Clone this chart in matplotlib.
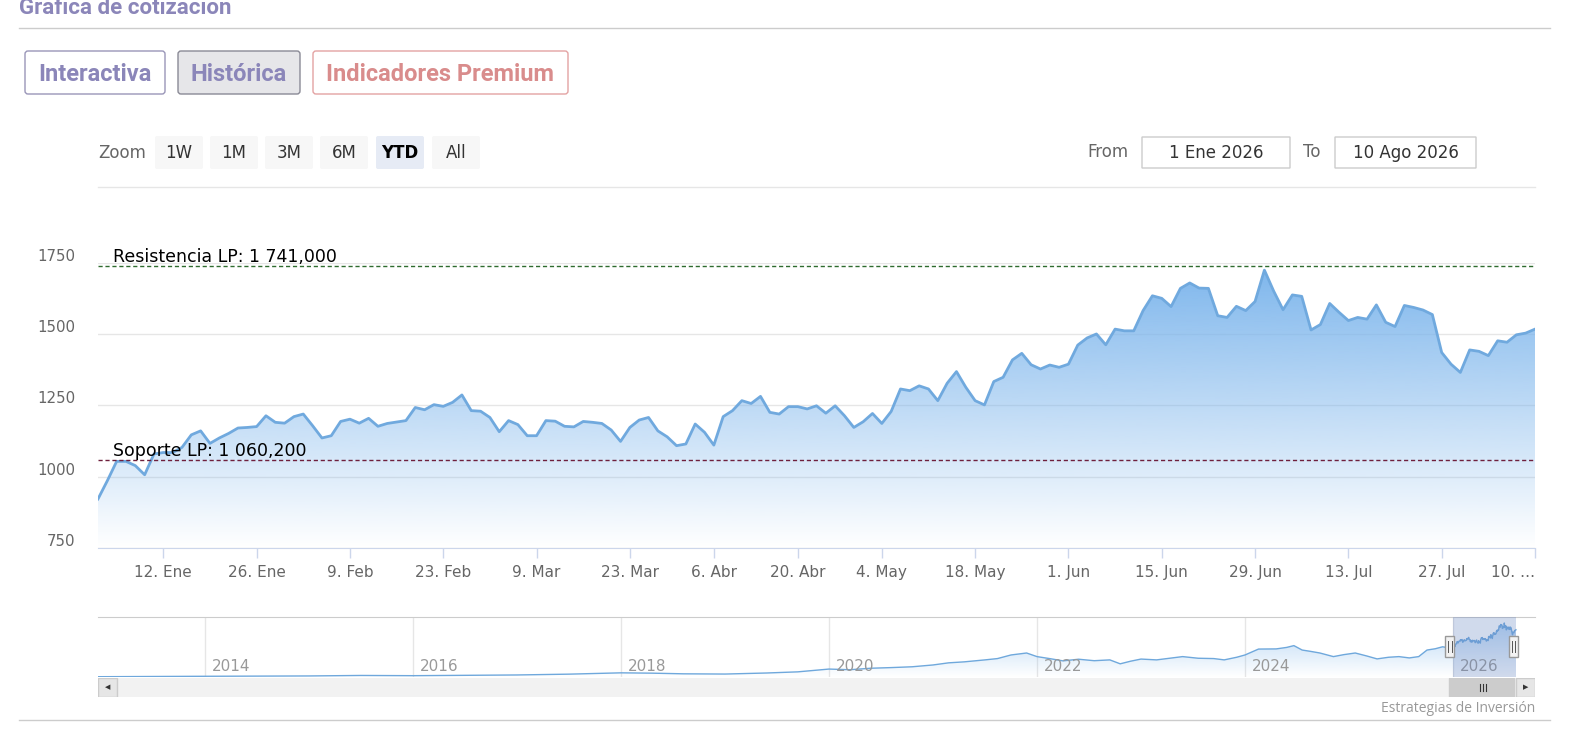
import numpy as np
import matplotlib
matplotlib.use('Agg')
import matplotlib.pyplot as plt
from matplotlib.patches import Rectangle, FancyBboxPatch
from matplotlib.transforms import ScaledTranslation, blended_transform_factory
from matplotlib.colors import to_rgb

W, H = 1573, 741

# cierre diario YTD 2026
prices = [
    922, 986, 1054, 1054, 1039, 1007, 1080, 1085, 1085, 1103,
    1147, 1161, 1117, 1136, 1152, 1171, 1173, 1176, 1214, 1191,
    1188, 1211, 1220, 1179, 1136, 1144, 1194, 1202, 1188, 1205,
    1177, 1187, 1192, 1197, 1243, 1235, 1253, 1247, 1261, 1287,
    1232, 1230, 1208, 1158, 1197, 1183, 1144, 1144, 1197, 1195,
    1177, 1175, 1194, 1191, 1187, 1164, 1124, 1173, 1199, 1208,
    1161, 1140, 1109, 1115, 1185, 1156, 1111, 1211, 1232, 1267,
    1257, 1282, 1226, 1220, 1246, 1246, 1238, 1249, 1223, 1249,
    1214, 1173, 1193, 1222, 1187, 1229, 1308, 1302, 1319, 1308,
    1267, 1328, 1369, 1314, 1267, 1252, 1334, 1349, 1410, 1433,
    1393, 1378, 1392, 1384, 1395, 1462, 1487, 1501, 1463, 1518,
    1512, 1512, 1583, 1635, 1626, 1597, 1661, 1680, 1662, 1661,
    1565, 1559, 1598, 1583, 1615, 1725, 1651, 1586, 1638, 1633,
    1515, 1534, 1608, 1577, 1548, 1559, 1553, 1603, 1542, 1527,
    1601, 1594, 1585, 1569, 1436, 1395, 1366, 1445, 1440, 1425,
    1477, 1472, 1498, 1504, 1518,
]
holidays = ['2026-04-03', '2026-04-06', '2026-05-01']
tick_dates = ['2026-01-12', '2026-01-26', '2026-02-09', '2026-02-23',
              '2026-03-09', '2026-03-23', '2026-04-06', '2026-04-20',
              '2026-05-04', '2026-05-18', '2026-06-01', '2026-06-15',
              '2026-06-29', '2026-07-13', '2026-07-27', '2026-08-10']
tick_labels = ['12. Ene', '26. Ene', '9. Feb', '23. Feb', '9. Mar', '23. Mar',
               '6. Abr', '20. Abr', '4. May', '18. May', '1. Jun', '15. Jun',
               '29. Jun', '13. Jul', '27. Jul', '10. \u2026']
y_ticks = [750, 1000, 1250, 1500, 1750]
resistance = 1741.0
support = 1060.2

# historico para el navegador
nav_years = [2012.85, 2013.3, 2013.8, 2014.0, 2014.5, 2015.0, 2015.5, 2016.0,
             2016.5, 2017.0, 2017.5, 2018.0, 2018.3, 2018.6, 2019.0, 2019.4,
             2019.7, 2020.0, 2020.2, 2020.4, 2020.6, 2020.8, 2021.0, 2021.15,
             2021.3, 2021.5, 2021.62, 2021.75, 2021.9, 2022.0, 2022.12, 2022.25,
             2022.4, 2022.55, 2022.7, 2022.8, 2022.9, 2023.0, 2023.15, 2023.3,
             2023.4, 2023.55, 2023.7, 2023.8, 2023.92, 2024.0, 2024.13, 2024.3,
             2024.4, 2024.47, 2024.55, 2024.63, 2024.72, 2024.85, 2024.95, 2025.06,
             2025.17, 2025.27, 2025.38, 2025.48, 2025.58, 2025.67, 2025.75, 2025.83,
             2025.9, 2025.97]
nav_values = [85, 92, 97, 100, 104, 110, 125, 118,
              128, 140, 165, 205, 195, 175, 168, 200,
              235, 320, 300, 345, 365, 390, 445, 510,
              540, 600, 640, 750, 810, 700, 640, 570,
              620, 575, 600, 480, 560, 625, 600, 660,
              700, 650, 640, 600, 680, 750, 930, 935,
              980, 1035, 900, 860, 810, 700, 760, 810,
              720, 630, 680, 700, 660, 700, 900, 940,
              1000, 960]
nav_year_ticks = [2014, 2016, 2018, 2020, 2022, 2024, 2026]

FONT_UI = ['Roboto', 'DejaVu Sans']
FONT_CHART = ['DejaVu Sans']


def px_axes(fig, x0, y0, x1, y1):
    return fig.add_axes([x0 / W, 1 - y1 / H, (x1 - x0) / W, (y1 - y0) / H])


def gradient_fill(ax, x, y, color, alpha_top, ymin, ymax, zorder):
    poly = ax.fill_between(x, y, ymin, facecolor='none', edgecolor='none')
    path = poly.get_paths()[0]
    grad = np.zeros((256, 1, 4))
    grad[..., :3] = to_rgb(color)
    grad[..., 3] = np.linspace(alpha_top, 0, 256)[:, None]
    im = ax.imshow(grad, aspect='auto', origin='upper', zorder=zorder,
                   extent=[min(x), max(x), ymin, ymax], interpolation='bilinear')
    im.set_clip_path(path, transform=ax.transData)


def button(ax, x0, y0, x1, y1, text, fc, ec, tc, size, weight='normal',
           family=FONT_CHART, radius=3, dy=0):
    ax.add_patch(FancyBboxPatch((x0, y0), x1 - x0, y1 - y0,
                                boxstyle=f'round,pad=0,rounding_size={radius}',
                                fc=fc, ec=ec, lw=1))
    ax.text((x0 + x1) / 2, (y0 + y1) / 2 + dy, text, ha='center', va='center',
            color=tc, fontsize=size, fontweight=weight, family=family)


def draw_ui(fig):
    ui = fig.add_axes([0, 0, 1, 1])
    ui.set_xlim(0, W)
    ui.set_ylim(H, 0)
    ui.axis('off')

    ui.text(19, 14, 'Gráfica de cotización', ha='left', va='baseline',
            fontsize=16, fontweight='bold', color='#8b86b9', family=FONT_UI)
    ui.plot([19, 1550], [28, 28], color='#cccccc', lw=1)

    button(ui, 25, 51, 165, 94, 'Interactiva', 'white', '#9a96b8', '#8b86b9',
           17, 'bold', FONT_UI, dy=2)
    button(ui, 178, 51, 300, 94, 'Histórica', '#e6e6e9', '#8a8a96', '#8b86b9',
           17, 'bold', FONT_UI, dy=2)
    button(ui, 313, 51, 568, 94, 'Indicadores Premium', 'white', '#e3a3a3',
           '#d98c8c', 17, 'bold', FONT_UI, dy=2)

    ui.text(98, 153, 'Zoom', ha='left', va='center', fontsize=12,
            color='#666666', family=FONT_CHART)
    zoom_btns = [('1W', 155), ('1M', 210), ('3M', 265), ('6M', 320),
                 ('YTD', 376), ('All', 432)]
    for lab, x0 in zoom_btns:
        sel = lab == 'YTD'
        button(ui, x0, 136, x0 + 48, 169, lab, '#e6ebf5' if sel else '#f7f7f7',
               'none', '#000000' if sel else '#333333', 12,
               'bold' if sel else 'normal', FONT_CHART, radius=2)

    ui.text(1108, 152, 'From', ha='center', va='center', fontsize=12,
            color='#666666', family=FONT_CHART)
    button(ui, 1142, 137, 1290, 168, '1 Ene 2026', 'white', '#cccccc',
           '#333333', 12, radius=0)
    ui.text(1312, 152, 'To', ha='center', va='center', fontsize=12,
            color='#666666', family=FONT_CHART)
    button(ui, 1335, 137, 1476, 168, '10 Ago 2026', 'white', '#cccccc',
           '#333333', 12, radius=0)
    ui.plot([98, 1535], [187, 187], color='#e6e6e6', lw=1)

    ui.text(1535, 708, 'Estrategias de Inversión', ha='right', va='center',
            fontsize=10, color='#999999', family=['Open Sans', 'DejaVu Sans'])
    ui.plot([19, 1550], [720, 720], color='#cccccc', lw=1)


def draw_main(fig, dates):
    ax = px_axes(fig, 98, 263, 1535, 548)
    x = np.arange(len(prices))
    gradient_fill(ax, x, prices, '#7cb5ec', 1.0, 750, 1750, 2)
    ax.plot(x, prices, color='#70a9de', lw=2, zorder=4, solid_joinstyle='round')
    ax.set_xlim(0, len(prices) - 1)
    ax.set_ylim(750, 1750)

    ax.set_yticks(y_ticks)
    ax.yaxis.grid(True, color='#e6e6e6', lw=1)
    ax.set_axisbelow(True)
    for side in ['top', 'left', 'right']:
        ax.spines[side].set_visible(False)
    ax.spines['bottom'].set_color('#ccd6eb')
    ax.tick_params(axis='y', length=0, pad=16.5, labelsize=10.8,
                   labelcolor='#666666')
    for lab in ax.get_yticklabels():
        lab.set_family(FONT_CHART)
        lab.set_transform(lab.get_transform() +
                          ScaledTranslation(0, 0.08, fig.dpi_scale_trans))

    pos = np.searchsorted(dates, np.array(tick_dates, dtype='datetime64[D]'))
    pos = np.minimum(pos, len(prices) - 1)
    ax.set_xticks(pos, tick_labels)
    ax.tick_params(axis='x', length=7.2, width=1, color='#ccd6eb', pad=5,
                   labelsize=11, labelcolor='#666666')
    for lab in ax.get_xticklabels():
        lab.set_family(FONT_CHART)
    ax.get_xticklabels()[-1].set_ha('right')

    trans = blended_transform_factory(ax.transAxes, ax.transData)
    ax.axhline(resistance, color='#2e6b2e', lw=1, ls=(0, (3, 2)), zorder=5)
    ax.axhline(support, color='#6e1f3c', lw=1, ls=(0, (3, 2)), zorder=5)
    ax.text(15 / 1437, resistance, 'Resistencia LP: 1 741,000', transform=trans,
            ha='left', va='bottom', fontsize=12.5, color='black',
            family=FONT_CHART, clip_on=False, zorder=6)
    ax.text(15 / 1437, support, 'Soporte LP: 1 060,200', transform=trans,
            ha='left', va='bottom', fontsize=12.5, color='black',
            family=FONT_CHART, clip_on=False, zorder=6)


def draw_navigator(fig, dates):
    ytd_years = list(2026 + (dates - np.datetime64('2026-01-01')).astype(int) / 365.0)
    years = nav_years + ytd_years
    values = nav_values + prices
    start, end = ytd_years[0], ytd_years[-1]
    px_year = 1 / 104.0
    xlim = (2014 - 107 * px_year, 2014 + 1330 * px_year)

    nav = px_axes(fig, 98, 617, 1535, 677)
    gradient_fill(nav, years, values, '#7cb5ec', 0.6, 78, 1908, 2)
    nav.plot(years, values, color='#6fa8dc', lw=1, zorder=4)
    nav.set_xlim(*xlim)
    nav.set_ylim(78, 1908)
    for side in ['left', 'right', 'bottom']:
        nav.spines[side].set_visible(False)
    nav.spines['top'].set_color('#cccccc')
    nav.set_xticks(nav_year_ticks)
    nav.set_yticks([])
    nav.tick_params(axis='x', length=0, labelbottom=False)
    nav.xaxis.grid(True, color='#e6e6e6', lw=1)
    nav.set_axisbelow(True)

    trans = blended_transform_factory(nav.transData, nav.transAxes)
    for yr in nav_year_ticks:
        nav.text(yr + 7 * px_year, 0.1, str(yr), transform=trans, ha='left',
                 va='baseline', fontsize=11, color='#999999',
                 family=FONT_CHART, zorder=5)

    nav.axvspan(start, end, color='#6685c2', alpha=0.3, lw=0, zorder=5)
    for hx in [start - 3 * px_year, end - 2 * px_year]:
        nav.add_patch(Rectangle((hx - 4.5 * px_year, 0.33), 9 * px_year, 0.36,
                                transform=trans, fc='#f2f2f2', ec='#999999',
                                lw=1, zorder=6, clip_on=False))
        for dx in [-1.5, 1.5]:
            nav.plot([hx + dx * px_year] * 2, [0.42, 0.6], transform=trans,
                     color='#555555', lw=0.7, zorder=7, clip_on=False)

    sb = px_axes(fig, 98, 678, 1535, 697)
    sb.set_xlim(*xlim)
    sb.set_ylim(0, 1)
    sb.set_facecolor('#f2f2f2')
    for s in sb.spines.values():
        s.set_visible(False)
    sb.set_xticks([])
    sb.set_yticks([])
    bw = 19 / 1437
    for bx, arrow in [(0, '\u25c0'), (1 - bw, '\u25b6')]:
        sb.add_patch(Rectangle((bx, 0), bw, 1, transform=sb.transAxes,
                               fc='#e6e6e6', ec='#cccccc', lw=1))
        sb.text(bx + bw / 2, 0.5, arrow, transform=sb.transAxes, ha='center',
                va='center', fontsize=5, color='#333333',
                family=['DejaVu Sans'])
    strans = blended_transform_factory(sb.transData, sb.transAxes)
    sb.add_patch(Rectangle((start - 4 * px_year, 0), end - start + 2 * px_year,
                           1, transform=strans, fc='#cccccc', ec='#cccccc'))
    mid = (start + end) / 2 - 1.5 * px_year
    for dx in [-3, 0, 3]:
        sb.plot([mid + dx * px_year] * 2, [0.32, 0.68], transform=strans,
                color='#333333', lw=0.8)


def main():
    days = np.arange('2026-01-01', '2026-08-11', dtype='datetime64[D]')
    dates = days[np.is_busday(days, holidays=holidays)]
    assert len(dates) == len(prices)

    fig = plt.figure(figsize=(W / 100, H / 100), dpi=100)
    fig.patch.set_facecolor('white')
    draw_ui(fig)
    draw_main(fig, dates)
    draw_navigator(fig, dates)
    fig.savefig('out.png', dpi=100, facecolor='white')


if __name__ == "__main__":
    main()
